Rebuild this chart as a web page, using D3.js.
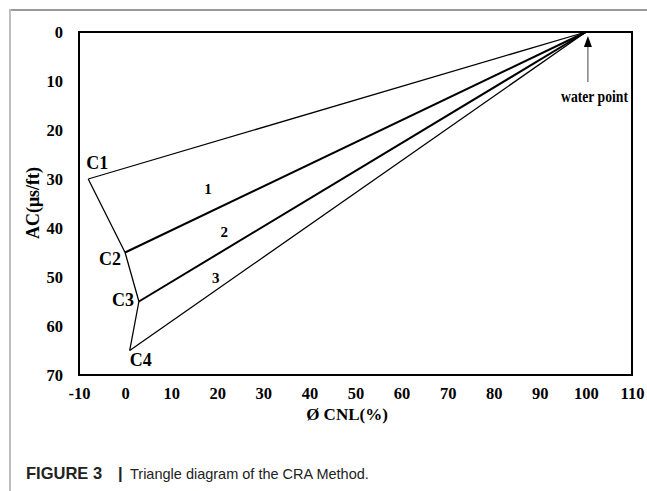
<!DOCTYPE html>
<html>
<head>
<meta charset="utf-8">
<script src="https://cdn.jsdelivr.net/npm/d3@7"></script>
<style>
    html, body { margin: 0; padding: 0; background: #fff; }
    svg { display: block; }
    .tick-label, .pt-label, .zone-label, .axis-title, .note { font-family: "Liberation Serif", "Times New Roman", serif; font-weight: bold; fill: #000; }
    .caption { font-family: "Liberation Sans", Arial, sans-serif; font-size: 14.5px; fill: #222; }
</style>
</head>
<body>
<div id="chart"></div>
<script>
///// DATOS /////
let pointNames = ['C1', 'C2', 'C3', 'C4'];
let pointCNL = [-8, 0, 3, 1];
let pointAC = [30, 45, 55, 65];
let waterCNL = 100, waterAC = 0;
let zoneNames = ['1', '2', '3'];
let zoneCNL = [18, 21.5, 19.7];
let zoneAC = [31.9, 40.7, 50.1];
let xTicks = [-10, 0, 10, 20, 30, 40, 50, 60, 70, 80, 90, 100, 110];
let yTicks = [0, 10, 20, 30, 40, 50, 60, 70];

///// GRÁFICO /////
let W = 647, H = 491;
let margin = {top: 32, right: 15, bottom: 116, left: 79};

let svg = d3.select('#chart').append('svg')
    .attr('width', W)
    .attr('height', H);

//Marco gris exterior
svg.append('line').attr('x1', 9).attr('x2', W).attr('y1', 10).attr('y2', 10)
    .attr('stroke', '#9a9a9a').attr('stroke-width', 2);
svg.append('line').attr('x1', 10).attr('x2', 10).attr('y1', 9).attr('y2', H)
    .attr('stroke', '#bdbdbd').attr('stroke-width', 2);

let x = d3.scaleLinear().domain([-10, 110]).range([margin.left, W - margin.right]);
let y = d3.scaleLinear().domain([0, 70]).range([margin.top, H - margin.bottom]);

//Ejes (solo etiquetas)
let xAxis = svg.append('g')
    .attr('transform', 'translate(0,' + y(70) + ')')
    .call(d3.axisBottom(x).tickValues(xTicks).tickSize(0).tickPadding(0).tickFormat(function(d) { return String(d); }));
xAxis.select('.domain').remove();
xAxis.selectAll('text')
    .attr('class', 'tick-label')
    .attr('dy', null)
    .attr('y', 24)
    .style('font-size', '16.5px');

let yAxis = svg.append('g')
    .attr('transform', 'translate(' + x(-10) + ',0)')
    .call(d3.axisLeft(y).tickValues(yTicks).tickSize(0).tickPadding(16).tickFormat(function(d) { return String(d); }));
yAxis.select('.domain').remove();
yAxis.selectAll('text')
    .attr('class', 'tick-label')
    .style('font-size', '16.5px');
svg.selectAll('g').attr('font-family', null).attr('font-size', null);

//Marco del área de trazado
svg.append('rect')
    .attr('x', x(-10))
    .attr('y', y(0))
    .attr('width', x(110) - x(-10))
    .attr('height', y(70) - y(0))
    .attr('fill', 'none')
    .attr('stroke', '#000')
    .attr('stroke-width', 2);

//Líneas desde el punto de agua
let lineWidths = [1.3, 2, 2, 1.3];
pointNames.forEach(function(d, i) {
    svg.append('line')
        .attr('x1', x(pointCNL[i])).attr('y1', y(pointAC[i]))
        .attr('x2', x(waterCNL)).attr('y2', y(waterAC))
        .attr('stroke', '#000')
        .attr('stroke-width', lineWidths[i]);
});

//Borde izquierdo C1-C2-C3-C4
let boundary = d3.line()
    .x(function(d) { return x(d[0]); })
    .y(function(d) { return y(d[1]); });
svg.append('path')
    .datum(pointCNL.map(function(d, i) { return [d, pointAC[i]]; }))
    .attr('d', boundary)
    .attr('fill', 'none')
    .attr('stroke', '#000')
    .attr('stroke-width', 1.3)
    .attr('stroke-linejoin', 'round');

//Etiquetas de puntos
let labelDx = [-2, -4, -5, 0];
let labelDy = [-10, 12, 4, 15];
let labelAnchor = ['start', 'end', 'end', 'start'];
pointNames.forEach(function(d, i) {
    svg.append('text')
        .attr('class', 'pt-label')
        .attr('x', x(pointCNL[i]) + labelDx[i])
        .attr('y', y(pointAC[i]) + labelDy[i])
        .attr('text-anchor', labelAnchor[i])
        .style('font-size', '18px')
        .text(d);
});

//Etiquetas de zonas
zoneNames.forEach(function(d, i) {
    svg.append('text')
        .attr('class', 'zone-label')
        .attr('x', x(zoneCNL[i]))
        .attr('y', y(zoneAC[i]))
        .attr('dy', '0.35em')
        .attr('text-anchor', 'middle')
        .style('font-size', '15px')
        .text(d);
});

//Flecha del punto de agua
let ax = x(waterCNL) + 2;
svg.append('line')
    .attr('x1', ax).attr('x2', ax)
    .attr('y1', y(waterAC) + 50).attr('y2', y(waterAC) + 14)
    .attr('stroke', '#444')
    .attr('stroke-width', 1);
svg.append('path')
    .attr('d', 'M' + ax + ',' + (y(waterAC) + 4) + 'L' + (ax - 4) + ',' + (y(waterAC) + 15) + 'L' + (ax + 4) + ',' + (y(waterAC) + 15) + 'Z')
    .attr('fill', '#000');
svg.append('text')
    .attr('class', 'note')
    .attr('x', x(110) - 4)
    .attr('y', y(waterAC) + 70)
    .attr('text-anchor', 'end')
    .style('font-size', '16px')
    .attr('textLength', 67)
    .attr('lengthAdjust', 'spacingAndGlyphs')
    .text('water point');

//Títulos de ejes
svg.append('text')
    .attr('class', 'axis-title')
    .attr('x', 347)
    .attr('y', 420)
    .attr('text-anchor', 'middle')
    .style('font-size', '17px')
    .text('Ø CNL(%)');

svg.append('text')
    .attr('class', 'axis-title')
    .attr('transform', 'translate(39,203) rotate(-90)')
    .attr('text-anchor', 'middle')
    .style('font-size', '18px')
    .text('AC(μs/ft)');

//Pie de figura
let caption = svg.append('text')
    .attr('class', 'caption')
    .attr('y', 479);
caption.append('tspan').attr('x', 26)
    .style('font-weight', 'bold')
    .style('font-size', '16.5px')
    .text('FIGURE 3');
caption.append('tspan').attr('x', 118)
    .style('font-weight', 'bold')
    .style('font-size', '16.5px')
    .text('|');
caption.append('tspan').attr('x', 130).text('Triangle diagram of the CRA Method.');
</script>
</body>
</html>
